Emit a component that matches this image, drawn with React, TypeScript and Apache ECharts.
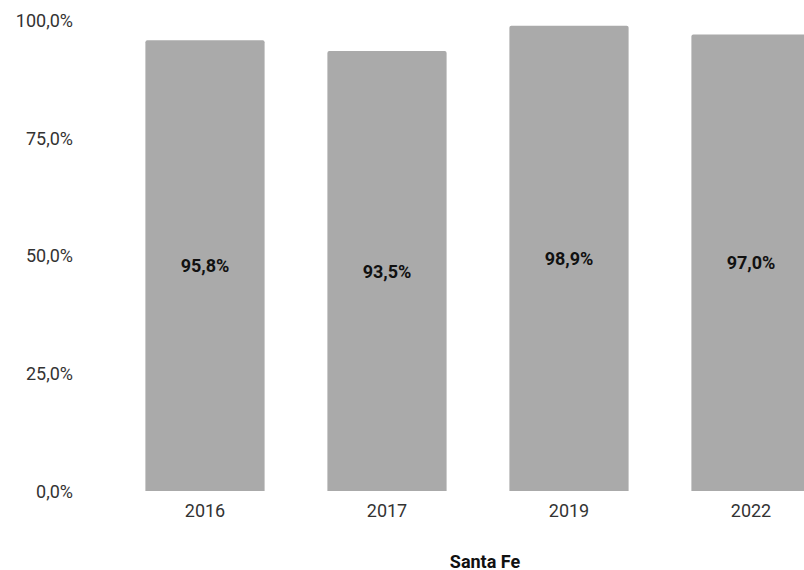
import React, { useEffect, useRef } from "react";
import * as echarts from "echarts";

const categories = ["2016", "2017", "2019", "2022"];
const values = [95.8, 93.5, 98.9, 97.0];
const yTicks = [0, 25, 50, 75, 100];
const axisName = "Santa Fe";

const fmt = (v: number) => v.toFixed(1).replace(".", ",") + "%";

export default function App() {
  const ref = useRef<HTMLDivElement>(null);
  useEffect(() => {
    const chart = echarts.init(ref.current!, undefined, { renderer: "svg" });
    chart.setOption({
      animation: false,
      grid: {
        left: 114,
        right: 0,
        top: 20.5,
        bottom: 79,
        containLabel: false,
        outerBoundsMode: "none",
      },
      xAxis: {
        type: "category",
        data: categories,
        name: axisName,
        nameLocation: "middle",
        nameGap: 61,
        nameTextStyle: {
          fontFamily: "Roboto",
          fontWeight: "bold",
          fontSize: 18,
          color: "#111",
          padding: [0, 0, 0, 14],
        },
        axisLine: { show: false },
        axisTick: { show: false },
        axisLabel: { fontFamily: "Roboto", fontSize: 18, color: "#333", margin: 10 },
      },
      yAxis: {
        type: "value",
        min: yTicks[0],
        max: yTicks[yTicks.length - 1],
        interval: 25,
        splitLine: { show: false },
        axisLine: { show: false },
        axisTick: { show: false },
        axisLabel: {
          fontFamily: "Roboto",
          fontSize: 18,
          color: "#333",
          margin: 41,
          formatter: (v: number) => fmt(v),
        },
      },
      series: [
        {
          type: "bar",
          data: values,
          barWidth: "65.5%",
          itemStyle: { color: "#aaaaaa", borderRadius: [2, 2, 0, 0] },
          label: {
            show: true,
            position: "inside",
            fontFamily: "Roboto",
            fontWeight: "bold",
            fontSize: 18,
            color: "#111",
            formatter: (p: any) => fmt(p.value),
          },
        },
      ],
    });
    return () => chart.dispose();
  }, []);
  return (
    <div style={{ position: "absolute", left: 0, top: 0, width: 804, height: 570, overflow: "hidden" }}>
      <div ref={ref} style={{ width: 842, height: 570 }} />
    </div>
  );
}
